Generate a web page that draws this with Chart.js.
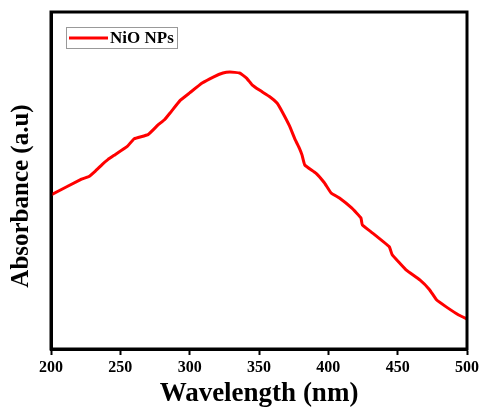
<!DOCTYPE html>
<html>
<head>
<meta charset="utf-8">
<script src="https://cdn.jsdelivr.net/npm/chart.js@4.4.1/dist/chart.umd.min.js"></script>
<style>
  html, body { margin: 0; padding: 0; background: #fff; }
  #wrap { width: 482px; height: 408px; position: relative; }
</style>
</head>
<body>
<div id="wrap"><canvas id="uvChart"></canvas></div>
<script>
const wavelengths = [200, 222, 227, 232, 237, 241, 246, 255, 260, 270, 277, 282, 286, 293, 300, 309, 317, 324, 329, 336, 341, 345, 350, 358, 363, 367, 372, 376, 379, 381, 383, 391, 397, 402, 408, 417, 423.5, 424.5, 431, 444, 446, 456, 466, 473, 478, 485, 494, 500];
const absorbance = [0.457, 0.504, 0.511, 0.528, 0.548, 0.562, 0.576, 0.601, 0.624, 0.636, 0.664, 0.681, 0.701, 0.737, 0.760, 0.789, 0.807, 0.819, 0.822, 0.819, 0.804, 0.784, 0.769, 0.748, 0.730, 0.702, 0.662, 0.622, 0.597, 0.576, 0.546, 0.522, 0.494, 0.463, 0.448, 0.418, 0.389, 0.368, 0.347, 0.303, 0.280, 0.235, 0.205, 0.176, 0.146, 0.125, 0.101, 0.089];
const xTicks = [200, 250, 300, 350, 400, 450, 500];

const serif = "'Liberation Serif', 'Times New Roman', serif";

// frame, y title and boxed legend like the original plot
const framePlugin = {
  id: "frame",
  afterDraw(chart) {
    const { ctx, chartArea } = chart;
    ctx.save();
    ctx.strokeStyle = "#000";
    ctx.lineWidth = 3;
    ctx.strokeRect(chartArea.left, chartArea.top, chartArea.right - chartArea.left, chartArea.bottom - chartArea.top);

    // y title
    ctx.translate(22, 196);
    ctx.rotate(-Math.PI / 2);
    ctx.fillStyle = "#000";
    ctx.font = "bold 25px " + serif;
    ctx.textAlign = "center";
    ctx.textBaseline = "middle";
    ctx.fillText("Absorbance (a.u)", 0, 0);
    ctx.restore();

    // legend
    ctx.save();
    ctx.strokeStyle = "#999";
    ctx.lineWidth = 1;
    ctx.strokeRect(66.5, 27.5, 111, 21);
    ctx.strokeStyle = "#ff0000";
    ctx.lineWidth = 3;
    ctx.beginPath();
    ctx.moveTo(69, 38);
    ctx.lineTo(108, 38);
    ctx.stroke();
    ctx.fillStyle = "#000";
    ctx.font = "bold 17px " + serif;
    ctx.textBaseline = "middle";
    ctx.fillText(chart.data.datasets[0].label, 110, 38.5);
    ctx.restore();
  },
};

new Chart(document.getElementById("uvChart"), {
  type: "line",
  data: {
    datasets: [
      {
        label: "NiO NPs",
        data: wavelengths.map((w, i) => ({ x: w, y: absorbance[i] })),
        borderColor: "#ff0000",
        borderWidth: 3,
        pointRadius: 0,
        tension: 0.1,
        fill: false,
      },
    ],
  },
  options: {
    responsive: true,
    maintainAspectRatio: false,
    animation: false,
    layout: {
      padding: { top: 12, right: 14, left: 0, bottom: 0 },
    },
    plugins: {
      legend: { display: false },
      tooltip: { enabled: false },
    },
    scales: {
      x: {
        type: "linear",
        min: 200,
        max: 500,
        afterBuildTicks: (scale) => {
          scale.ticks = xTicks.map((v) => ({ value: v }));
        },
        afterFit: (scale) => {
          scale.height = 59;
        },
        grid: {
          drawOnChartArea: false,
          drawTicks: true,
          tickLength: 6,
          tickWidth: 2,
          tickColor: "#000",
        },
        border: { display: true, color: "#000", width: 3 },
        ticks: {
          color: "#000",
          padding: 3,
          maxRotation: 0,
          font: { family: serif, size: 16, weight: "bold" },
        },
        title: {
          display: true,
          text: "Wavelength (nm)",
          color: "#000",
          padding: { top: 0, bottom: 0 },
          font: { family: serif, size: 27, weight: "bold", lineHeight: 1.0 },
        },
      },
      y: {
        min: 0,
        max: 1,
        afterFit: (scale) => {
          scale.width = 51;
        },
        grid: { display: false },
        border: { display: true, color: "#000", width: 3 },
        ticks: { display: false },
      },
    },
  },
  plugins: [framePlugin],
});
</script>
</body>
</html>
